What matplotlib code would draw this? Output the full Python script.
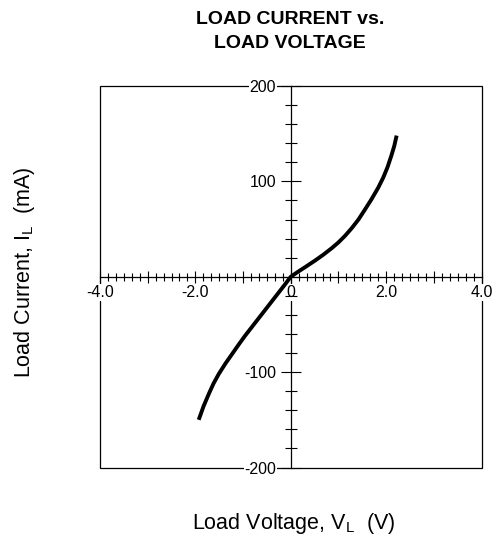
import matplotlib
matplotlib.use("Agg")
import matplotlib.pyplot as plt
from matplotlib.ticker import FixedLocator, FixedFormatter, MultipleLocator
from matplotlib.patches import Rectangle

plt.rcParams['font.family'] = ['Liberation Sans', 'DejaVu Sans']

# curve (V, mA)
volts = [-1.93, -1.83, -1.72, -1.62, -1.51, -1.37, -1.23, -1.09, -0.96, -0.82,
         -0.68, -0.54, -0.40, -0.26, -0.12, 0.0, 0.16, 0.33, 0.51, 0.68, 0.86,
         1.0, 1.14, 1.28, 1.42, 1.55, 1.69, 1.83, 1.94, 2.03, 2.11, 2.17, 2.22]
current = [-150, -136, -123, -112, -102, -91, -81, -71, -62, -53,
           -44, -35, -26, -17, -8, 0, 5.5, 11, 17, 23, 30,
           36, 43, 51, 60, 70, 81, 93, 104, 115, 127, 137, 148]

x_ticks = [-4, -3, -2, -1, 0, 1, 2, 3, 4]
x_labels = ['-4.0', '', '-2.0', '', '0', '', '2.0', '', '4.0']
y_ticks = [-200, -100, 0, 100, 200]
y_labels = ['-200', '-100', '', '100', '200']

W, H = 501, 537
fig = plt.figure(figsize=(W / 100, H / 100), dpi=100)
ax = fig.add_axes([100 / W, 1 - 467.5 / H, 381.5 / W, 381.5 / H])

ax.plot(volts, current, color='black', lw=2.8, solid_capstyle='butt',
        solid_joinstyle='round', zorder=2)

ax.set_xlim(-4, 4)
ax.set_ylim(-200, 200)

ax.spines['left'].set_position('zero')
ax.spines['bottom'].set_position('zero')
ax.spines['right'].set_visible(False)
ax.spines['top'].set_visible(False)
for s in ('left', 'bottom'):
    ax.spines[s].set_linewidth(0.9)
    ax.spines[s].set_zorder(1.2)

# outer frame
ax.add_patch(Rectangle((0, 0), 1, 1, transform=ax.transAxes, fill=False,
                       ec='black', lw=0.9, clip_on=False, zorder=1))

ax.xaxis.set_major_locator(FixedLocator(x_ticks))
ax.xaxis.set_major_formatter(FixedFormatter(x_labels))
ax.xaxis.set_minor_locator(MultipleLocator(1 / 6))
ax.yaxis.set_major_locator(FixedLocator(y_ticks))
ax.yaxis.set_major_formatter(FixedFormatter(y_labels))
ax.yaxis.set_minor_locator(MultipleLocator(20))

ax.tick_params(axis='x', which='major', direction='inout', length=9, width=0.8,
               labelsize=11.5, pad=1.5)
ax.tick_params(axis='x', which='minor', direction='inout', length=6, width=0.8)
ax.tick_params(axis='y', which='major', direction='inout', length=14, width=0.8,
               labelsize=11.5, pad=3.5)
ax.tick_params(axis='y', which='minor', direction='inout', length=9, width=0.8)

for lab in ax.get_xticklabels() + ax.get_yticklabels():
    lab.set_bbox(dict(facecolor='white', edgecolor='none', pad=0.5))

fig.text(290 / W, 1 - 19 / H, 'LOAD CURRENT vs.', ha='center', va='center',
         fontsize=14, fontweight='bold')
fig.text(290 / W, 1 - 44 / H, 'LOAD VOLTAGE', ha='center', va='center',
         fontsize=14, fontweight='bold')

fig.text(294 / W, 1 - 524 / H, r'Load Voltage, V$_\mathregular{L}$  (V)',
         ha='center', va='center', fontsize=15.5)
fig.text(25 / W, 1 - 272 / H, r'Load Current, I$_\mathregular{L}$  (mA)',
         ha='center', va='center', rotation=90, fontsize=15.5)

fig.savefig('out.png', dpi=100)
